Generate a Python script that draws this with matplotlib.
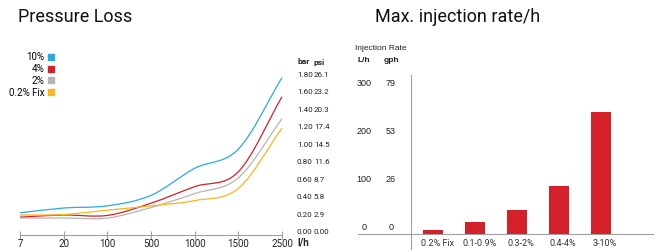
"""Pressure loss curves and max. injection rate bars."""

import matplotlib
matplotlib.use("Agg")
import matplotlib.pyplot as plt
import matplotlib.transforms as mtransforms
from matplotlib.path import Path
from matplotlib.patches import PathPatch
from matplotlib.lines import Line2D

plt.rcParams["font.family"] = ["Roboto", "DejaVu Sans"]

# --- data: pressure loss (bar) at each flow rate (l/h)
flow_labels = ["7", "20", "100", "500", "1000", "1500", "2500"]
loss_10 = [0.22, 0.275, 0.30, 0.42, 0.73, 0.95, 1.77]
loss_4 = [0.17, 0.195, 0.19, 0.33, 0.52, 0.69, 1.55]
loss_2 = [0.16, 0.16, 0.16, 0.28, 0.44, 0.62, 1.30]
loss_02 = [0.195, 0.20, 0.25, 0.30, 0.36, 0.50, 1.19]
series_names = ["10%", "4%", "2%", "0.2% Fix"]
series_colors = ["#29abe2", "#d4202a", "#b5b5b5", "#fbb61a"]
bar_ticks = [0.0, 0.2, 0.4, 0.6, 0.8, 1.0, 1.2, 1.4, 1.6, 1.8]
psi_ticks = ["0.00", "2.9", "5.8", "8.7", "11.6", "14.5", "17.4", "20.3", "23.2", "26.1"]

# --- data: max injection rate (L/h) per dosing range
rate_labels = ["0.2% Fix", "0.1-0.9%", "0.3-2%", "0.4-4%", "3-10%"]
rate_values = [8, 25, 50, 100, 252]
lh_ticks = [0, 100, 200, 300]
gph_ticks = ["0", "26", "53", "79"]

W, H = 662, 250
AXIS_GREY = "#a0a0a0"


def smooth_path(ys):
    """Catmull-Rom curve through the points (i, ys[i]) as cubic Bezier path."""
    n = len(ys)
    slopes = []
    for i in range(n):
        if i == 0:
            slopes.append(ys[1] - ys[0])
        elif i == n - 1:
            slopes.append(ys[-1] - ys[-2])
        else:
            slopes.append((ys[i + 1] - ys[i - 1]) / 2)
    verts = [(0, ys[0])]
    codes = [Path.MOVETO]
    for i in range(n - 1):
        verts += [(i + 1 / 3, ys[i] + slopes[i] / 3),
                  (i + 2 / 3, ys[i + 1] - slopes[i + 1] / 3),
                  (i + 1, ys[i + 1])]
        codes += [Path.CURVE4] * 3
    return Path(verts, codes)


fig = plt.figure(figsize=(W / 100, H / 100), dpi=100)

# ---------------- left: pressure loss ----------------
ax1 = fig.add_axes([20 / W, 1 - 232 / H, 262 / W, 157 / H])
ax1.set_xlim(0, 6)
ax1.set_ylim(0, 1.8)
for side in ["top", "right", "left"]:
    ax1.spines[side].set_visible(False)
ax1.spines["bottom"].set_position(("outward", 2))
ax1.spines["bottom"].set_color(AXIS_GREY)
ax1.spines["bottom"].set_linewidth(0.8)
ax1.set_yticks([])
ax1.set_xticks(range(len(flow_labels)), flow_labels)
ax1.tick_params(axis="x", direction="inout", length=6, width=0.8,
                color=AXIS_GREY, labelsize=7, pad=0, labelcolor="#222222")

for ys, c in zip([loss_10, loss_4, loss_2, loss_02], series_colors):
    ax1.add_patch(PathPatch(smooth_path(ys), facecolor="none",
                            edgecolor=c, lw=0.9, clip_on=False))

for v, p in zip(bar_ticks, psi_ticks):
    ax1.text(6.34, v, f"{v:.2f}", fontsize=5.8, va="center", ha="left",
             color="#222222", clip_on=False)
    ax1.text(6.73, v, p, fontsize=5.8, va="center", ha="left",
             color="#222222", clip_on=False)
fig.text(297 / W, 1 - 62 / H, "bar", fontsize=6, fontweight="bold",
         va="center", ha="left", color="#222222")
fig.text(314 / W, 1 - 62 / H, "psi", fontsize=6, fontweight="bold",
         va="center", ha="left", color="#222222")
fig.text(297 / W, 1 - 242 / H, "l/h", fontsize=7, fontweight="bold",
         va="center", ha="left", color="#222222")

handles = [Line2D([], [], ls="none", marker="s", markersize=3.8, color=c)
           for c in series_colors]
ax1.legend(handles, series_names, markerfirst=False, frameon=False,
           loc="upper right", bbox_to_anchor=(54 / W, 1 - 52 / H),
           bbox_transform=fig.transFigure, fontsize=7, labelspacing=0.2,
           handlelength=0.6, handletextpad=0.4, borderpad=0, borderaxespad=0)

fig.text(18 / W, 1 - 17 / H, "Pressure Loss", fontsize=13, va="center",
         ha="left", color="#111111")

# ---------------- right: max injection rate ----------------
px_per_unit = 48.3 / 100
ax2 = fig.add_axes([411 / W, 0, (653 - 411) / W, (250 - 75) / H])
ax2.set_xlim(-22 / 42, 220 / 42)
ax2.set_ylim(-16 / px_per_unit, 159 / px_per_unit)
for side in ["top", "right", "bottom"]:
    ax2.spines[side].set_visible(False)
ax2.spines["left"].set_color(AXIS_GREY)
ax2.spines["left"].set_linewidth(0.8)
ax2.set_xticks([])
ax2.set_yticks([])
ax2.axhline(0, xmin=(358 - 411) / 242, xmax=1, color=AXIS_GREY, lw=0.8,
            clip_on=False)

ax2.bar(range(len(rate_values)), rate_values, width=20 / 42, color="#d42129")

up = mtransforms.offset_copy(ax2.transData, fig=fig, y=6, units="dots")
down = mtransforms.offset_copy(ax2.transData, fig=fig, y=-10, units="dots")
for v, g in zip(lh_ticks, gph_ticks):
    ax2.text((364 - 433) / 42, v, str(v), transform=up, fontsize=6.5,
             family="Liberation Sans", ha="center", va="center",
             color="#222222", clip_on=False)
    ax2.text((391 - 433) / 42, v, g, transform=up, fontsize=6.5,
             family="Liberation Sans", ha="center", va="center",
             color="#222222", clip_on=False)
for i, lab in enumerate(rate_labels):
    ax2.text(i + 0.1, 0, lab, transform=down, fontsize=6.5, ha="center",
             va="center", color="#333333", clip_on=False)

fig.text(381 / W, 1 - 49 / H, "Injection Rate", fontsize=6,
         family="Liberation Sans", ha="center", va="center", color="#222222")
fig.text(364 / W, 1 - 60 / H, "L/h", fontsize=6, fontweight="bold",
         family="Liberation Sans", ha="center", va="center", color="#222222")
fig.text(391 / W, 1 - 60 / H, "gph", fontsize=6, fontweight="bold",
         family="Liberation Sans", ha="center", va="center", color="#222222")

fig.text(375 / W, 1 - 17 / H, "Max. injection rate/h", fontsize=13,
         va="center", ha="left", color="#111111")

fig.savefig("out.png", dpi=100)
